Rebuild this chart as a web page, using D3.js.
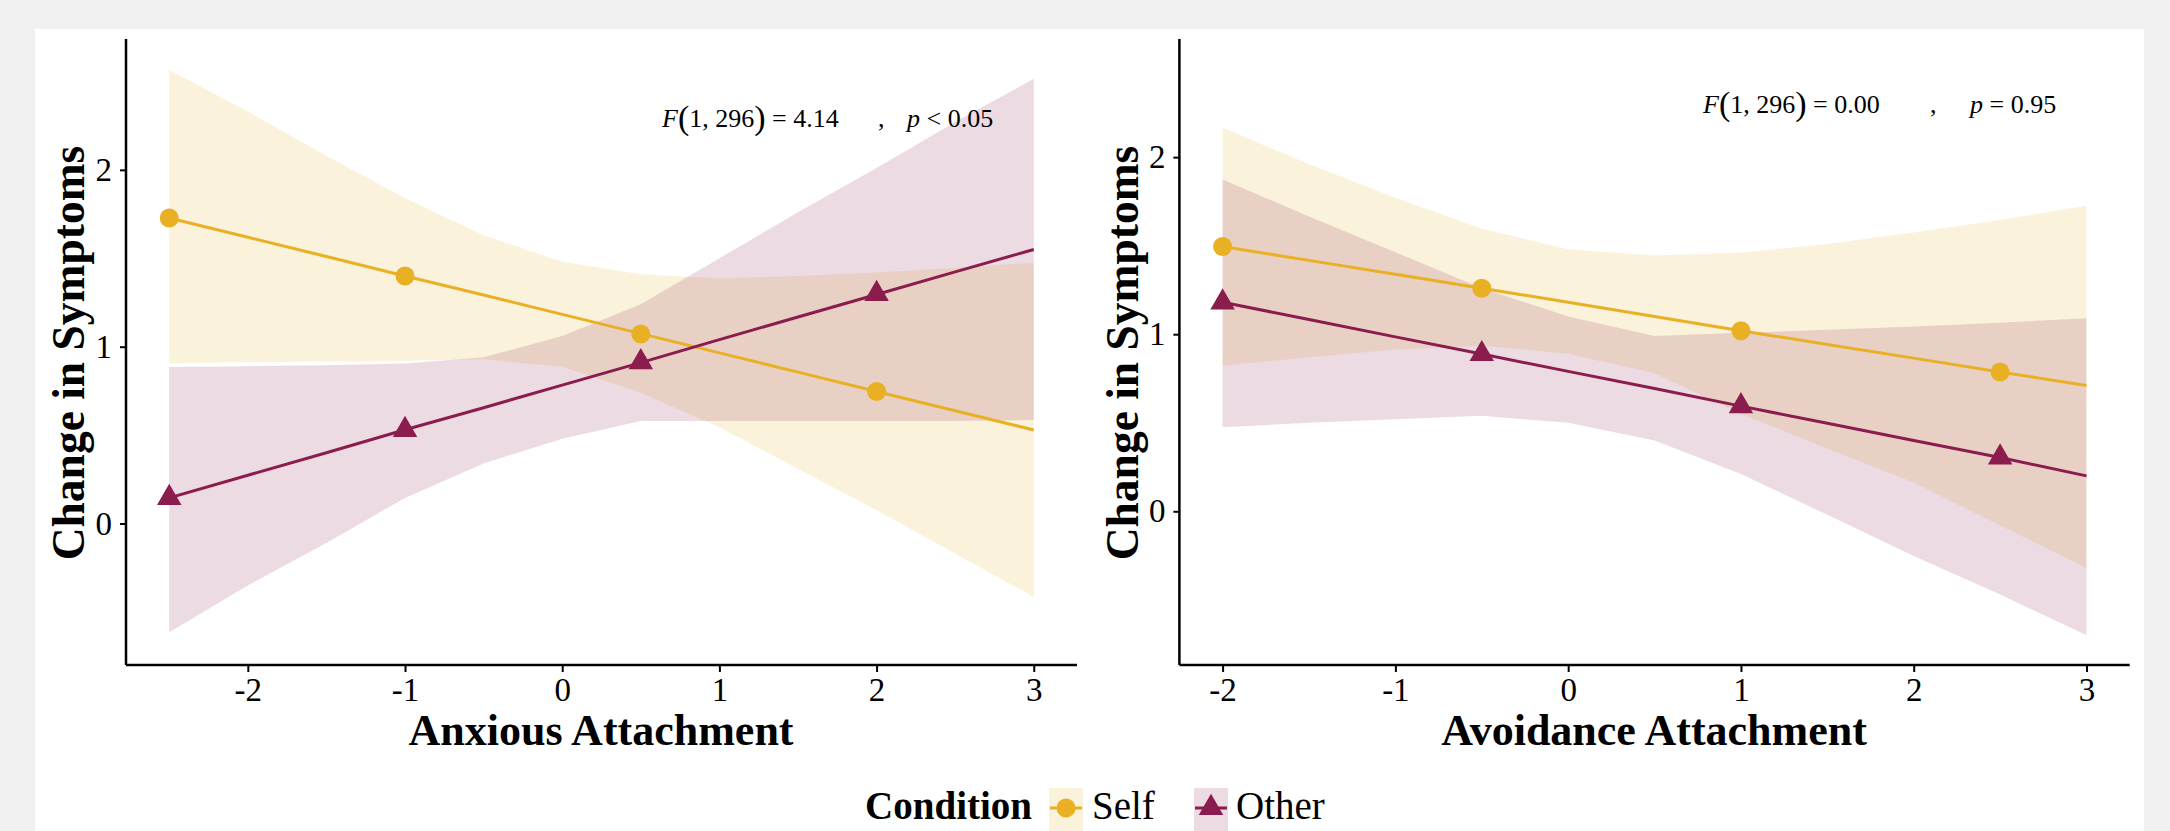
<!DOCTYPE html>
<html><head><meta charset="utf-8">
<script src="https://cdn.jsdelivr.net/npm/d3@7"></script>
<style>
body{margin:0;background:#f0f0f0;}
svg{display:block;}
text{font-family:"Liberation Serif","Times New Roman",serif;fill:#000;}
</style>
</head><body>
<svg id="chart" width="2170" height="831"></svg>
<script>
// ---------- DATA ----------
const conditions = ["Self", "Other"];
const conditionColors = ["#E9B024", "#8B1C4E"];
const xTicks = [-2, -1, 0, 1, 2, 3];
const yTicks = [0, 1, 2];

// Panel 1: Anxious Attachment
const anxGridX     = [-2.5, -2, -1.5, -1, -0.5, 0, 0.5, 1, 1.5, 2, 2.5, 3];
const anxSelfFit   = [1.728, 1.619, 1.51, 1.40, 1.292, 1.183, 1.074, 0.965, 0.856, 0.747, 0.638, 0.529];
const anxSelfUpper = [2.565, 2.33, 2.08, 1.84, 1.63, 1.48, 1.41, 1.385, 1.40, 1.42, 1.445, 1.475];
const anxSelfLower = [0.907, 0.912, 0.916, 0.92, 0.93, 0.886, 0.74, 0.545, 0.31, 0.075, -0.17, -0.415];
const anxOtherFit  = [0.145, 0.273, 0.40, 0.53, 0.655, 0.783, 0.91, 1.04, 1.168, 1.295, 1.423, 1.55];
const anxOtherUpper= [0.885, 0.89, 0.895, 0.905, 0.94, 1.06, 1.24, 1.50, 1.76, 2.01, 2.27, 2.515];
const anxOtherLower= [-0.615, -0.35, -0.11, 0.145, 0.34, 0.48, 0.58, 0.58, 0.58, 0.58, 0.58, 0.585];
const anxPointX    = [-2.5, -1, 0.5, 2];
const anxSelfPts   = [1.728, 1.40, 1.072, 0.747];
const anxOtherPts  = [0.145, 0.53, 0.912, 1.298];
const anxStat      = ["4.14", "<", "0.05"];

// Panel 2: Avoidance Attachment
const avoGridX     = [-2, -1.5, -1, -0.5, 0, 0.5, 1, 1.5, 2, 2.5, 3];
const avoSelfFit   = [1.495, 1.417, 1.338, 1.26, 1.18, 1.10, 1.02, 0.942, 0.865, 0.787, 0.71];
const avoSelfUpper = [2.167, 1.96, 1.77, 1.595, 1.48, 1.445, 1.46, 1.51, 1.575, 1.645, 1.725];
const avoSelfLower = [0.822, 0.87, 0.913, 0.935, 0.89, 0.78, 0.55, 0.355, 0.163, -0.08, -0.32];
const avoOtherFit  = [1.18, 1.083, 0.985, 0.888, 0.79, 0.693, 0.594, 0.497, 0.40, 0.304, 0.20];
const avoOtherUpper= [1.873, 1.665, 1.463, 1.26, 1.10, 0.99, 1.008, 1.025, 1.043, 1.065, 1.09];
const avoOtherLower= [0.474, 0.50, 0.52, 0.539, 0.50, 0.40, 0.21, -0.02, -0.253, -0.47, -0.70];
const avoPointX    = [-2, -0.5, 1, 2.5];
const avoSelfPts   = [1.495, 1.26, 1.02, 0.787];
const avoOtherPts  = [1.18, 0.888, 0.594, 0.304];
const avoStat      = ["0.00", "=", "0.95"];

const xTitles = ["Anxious Attachment", "Avoidance Attachment"];
const yTitle = "Change in Symptoms";
const legendTitle = "Condition";

// ---------- LAYOUT ----------
const svg = d3.select("#chart");
svg.append("rect").attr("x", 35).attr("y", 29).attr("width", 2109).attr("height", 830).attr("fill", "#fff");

const panels = [
  { xDom: [-2.775, 3.275], yDom: [-0.80, 2.74], xr: [126, 1077], yr: [665, 39],
    gridX: anxGridX, fits: [anxSelfFit, anxOtherFit], uppers: [anxSelfUpper, anxOtherUpper],
    lowers: [anxSelfLower, anxOtherLower], ptX: anxPointX, pts: [anxSelfPts, anxOtherPts],
    stat: anxStat, statPos: {fx: 662, commaX: 878, px: 907, y: 127}, xTitle: xTitles[0], titleX: 601, ylabX: 84 },
  { xDom: [-2.25, 3.25], yDom: [-0.868, 2.667], xr: [1179.4, 2129.7], yr: [665, 39],
    gridX: avoGridX, fits: [avoSelfFit, avoOtherFit], uppers: [avoSelfUpper, avoOtherUpper],
    lowers: [avoSelfLower, avoOtherLower], ptX: avoPointX, pts: [avoSelfPts, avoOtherPts],
    stat: avoStat, statPos: {fx: 1703, commaX: 1930, px: 1970, y: 113}, xTitle: xTitles[1], titleX: 1654, ylabX: 1138 }
];

const triangle = d3.symbol().type(d3.symbolTriangle).size(260);

panels.forEach(p => {
  const x = d3.scaleLinear().domain(p.xDom).range(p.xr);
  const y = d3.scaleLinear().domain(p.yDom).range(p.yr);
  const g = svg.append("g");

  // ribbons
  [0, 1].forEach(ci => {
    const area = d3.area()
      .x((d, i) => x(p.gridX[i]))
      .y0((d, i) => y(p.lowers[ci][i]))
      .y1((d, i) => y(p.uppers[ci][i]));
    g.append("path").datum(p.gridX).attr("d", area)
      .attr("fill", conditionColors[ci]).attr("fill-opacity", 0.16);
  });
  // lines
  [0, 1].forEach(ci => {
    const line = d3.line().x((d, i) => x(p.gridX[i])).y((d, i) => y(p.fits[ci][i]));
    g.append("path").datum(p.gridX).attr("d", line)
      .attr("fill", "none").attr("stroke", conditionColors[ci]).attr("stroke-width", 3);
  });
  // points
  g.selectAll(".selfpt").data(p.ptX).enter().append("circle")
    .attr("cx", (d) => x(d)).attr("cy", (d, i) => y(p.pts[0][i])).attr("r", 9.5)
    .attr("fill", conditionColors[0]);
  g.selectAll(".otherpt").data(p.ptX).enter().append("path")
    .attr("d", triangle)
    .attr("transform", (d, i) => `translate(${x(d)},${y(p.pts[1][i])})`)
    .attr("fill", conditionColors[1]);

  // axes
  const xAxis = g.append("g").attr("transform", `translate(0,${p.yr[0]})`)
    .call(d3.axisBottom(x).tickValues(xTicks).tickSize(7).tickPadding(6).tickFormat(d => d < 0 ? "-" + Math.abs(d) : d));
  const yAxis = g.append("g").attr("transform", `translate(${p.xr[0]},0)`)
    .call(d3.axisLeft(y).tickValues(yTicks).tickSize(6).tickPadding(8).tickFormat(d3.format("d")));
  [xAxis, yAxis].forEach(a => {
    a.select(".domain").attr("stroke", "#000").attr("stroke-width", 2.5);
    a.selectAll(".tick line").attr("stroke", "#000").attr("stroke-width", 2);
    a.selectAll(".tick text").style("font-family", "Liberation Serif").style("font-size", "33px").attr("fill", "#222");
  });
  xAxis.select(".domain").attr("d", `M${p.xr[0]},0H${p.xr[1]}`);
  yAxis.select(".domain").attr("d", `M0,${p.yr[0]}V${p.yr[1]}`);

  // axis titles
  g.append("text").attr("x", p.titleX).attr("y", 745).attr("text-anchor", "middle")
    .style("font-size", "44px").style("font-weight", "bold").text(p.xTitle);
  g.append("text").attr("transform", `translate(${p.ylabX},353) rotate(-90)`)
    .attr("text-anchor", "middle").style("font-size", "45.5px").style("font-weight", "bold").text(yTitle);

  // statistic annotation
  const t = g.append("text").attr("x", p.statPos.fx).attr("y", p.statPos.y).style("font-size", "26px").attr("fill", "#222");
  t.append("tspan").style("font-style", "italic").text("F");
  t.append("tspan").style("font-size", "34px").attr("dy", 2).text("(");
  t.append("tspan").attr("dy", -2).text("1, 296");
  t.append("tspan").style("font-size", "34px").attr("dy", 2).text(")");
  t.append("tspan").attr("dy", -2).text(" = " + p.stat[0]);
  g.append("text").attr("x", p.statPos.commaX).attr("y", p.statPos.y).style("font-size", "26px").text(",");
  const t2 = g.append("text").attr("x", p.statPos.px).attr("y", p.statPos.y).style("font-size", "26px").attr("fill", "#222");
  t2.append("tspan").style("font-style", "italic").text("p");
  t2.append("tspan").text(" " + p.stat[1] + " " + p.stat[2]);
});

// ---------- LEGEND ----------
const lg = svg.append("g");
const legY = 819;
lg.append("text").attr("x", 1032).attr("y", legY).attr("text-anchor", "end")
  .style("font-size", "39px").style("font-weight", "bold").text(legendTitle);
const keyX = [1066, 1211];
const labelX = [1092, 1236];
const keyCY = 808;
conditions.forEach((c, i) => {
  lg.append("rect").attr("x", keyX[i] - 17).attr("y", 788).attr("width", 34).attr("height", 45)
    .attr("fill", conditionColors[i]).attr("fill-opacity", 0.16);
  lg.append("line").attr("x1", keyX[i] - 16).attr("x2", keyX[i] + 16).attr("y1", keyCY).attr("y2", keyCY)
    .attr("stroke", conditionColors[i]).attr("stroke-width", 3);
  if (i === 0) {
    lg.append("circle").attr("cx", keyX[i]).attr("cy", keyCY).attr("r", 9.5).attr("fill", conditionColors[i]);
  } else {
    lg.append("path").attr("d", triangle).attr("transform", `translate(${keyX[i]},${keyCY})`).attr("fill", conditionColors[i]);
  }
  lg.append("text").attr("x", labelX[i]).attr("y", legY).style("font-size", "39px").text(c);
});
</script>
</body></html>
